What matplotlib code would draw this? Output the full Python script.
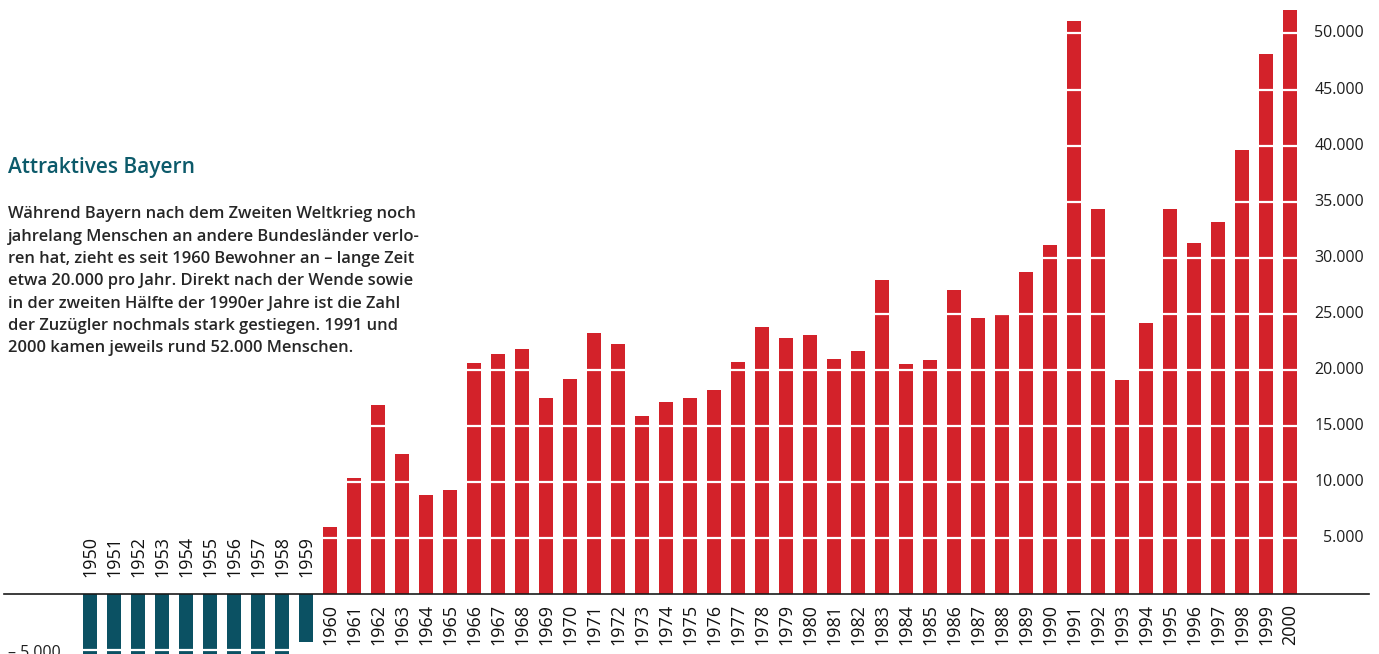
import matplotlib.pyplot as plt

years = list(range(1950, 2001))
# Wanderungssaldo Bayerns gegenüber anderen Bundesländern (Personen)
saldo = [-21000, -24000, -19000, -16000, -14000, -15000, -13000, -11000, -9000, -4250,
         6000, 10350, 16900, 12500, 8800, 9250, 20600, 21400, 21900, 17500,
         19200, 23250, 22300, 15900, 17150, 17450, 18200, 20700, 23800, 22800,
         23100, 21000, 21700, 28000, 20500, 20900, 27100, 24600, 25000, 28700,
         31100, 51100, 34300, 19100, 24200, 34300, 31300, 33200, 39600, 48200,
         52100]
y_ticks = [5000, 10000, 15000, 20000, 25000, 30000, 35000, 40000, 45000, 50000]
y_tick_labels = ["5.000", "10.000", "15.000", "20.000", "25.000", "30.000",
                 "35.000", "40.000", "45.000", "50.000"]

title = "Attraktives Bayern"
text_lines = [
    "Während Bayern nach dem Zweiten Weltkrieg noch",
    "jahrelang Menschen an andere Bundesländer verlo-",
    "ren hat, zieht es seit 1960 Bewohner an – lange Zeit",
    "etwa 20.000 pro Jahr. Direkt nach der Wende sowie",
    "in der zweiten Hälfte der 1990er Jahre ist die Zahl",
    "der Zuzügler nochmals stark gestiegen. 1991 und",
    "2000 kamen jeweils rund 52.000 Menschen.",
]

rot = "#d3222a"
petrol = "#0b5163"

plt.rcParams['font.family'] = ['Open Sans', 'Noto Sans', 'DejaVu Sans']

W, H = 1379, 654
fig = plt.figure(figsize=(W / 100, H / 100), dpi=100)
ax = fig.add_axes([0, 0, 1, 1])
ax.axis("off")

# Pixelmaßstab aus dem Original: 24 px pro Jahr, 11.21 px pro 1000
ax.set_xlim(1950 - 90 / 24, 1950 + (W - 90) / 24)
ax.set_ylim(-(H - 594) / 11.21 * 1000, 594 / 11.21 * 1000)

farben = [petrol if v < 0 else rot for v in saldo]
ax.bar(years, saldo, width=0.62, color=farben, zorder=2)

# weiße Rasterlinien über den Balken
for t in [-5000] + y_ticks:
    ax.axhline(t, color="white", lw=1.6, zorder=3)
ax.plot([1950 - 86 / 24, 1950 + 1279 / 24], [0, 0], color="#1a1a1a", lw=1.2, zorder=4)

x_lab = 1950 + 1274 / 24
for t, lab in zip(y_ticks, y_tick_labels):
    ax.text(x_lab, t, lab, ha="right", va="center", fontsize=11.5, color="#1e1e1e")
ax.text(1950 - 82 / 24, -5250, "– 5.000", ha="left", va="center", fontsize=11.5, color="#1e1e1e")

for yr, v in zip(years, saldo):
    if v < 0:
        ax.text(yr, 1520, str(yr), rotation=90, ha="center", va="bottom",
                fontsize=13, color="#111111")
    else:
        ax.text(yr, -900, str(yr), rotation=90, ha="center", va="top",
                fontsize=13, color="#111111")

fig.text(8 / W, 1 - 173.5 / H, title, ha="left", va="baseline", fontsize=15,
         fontweight="semibold", color="#0c5a6a")
for i, line in enumerate(text_lines):
    fig.text(8 / W, 1 - (218.5 + i * 22.3) / H, line, ha="left", va="baseline",
             fontsize=11.9, fontweight="semibold", color="#262626")

fig.savefig("out.png", dpi=100)
